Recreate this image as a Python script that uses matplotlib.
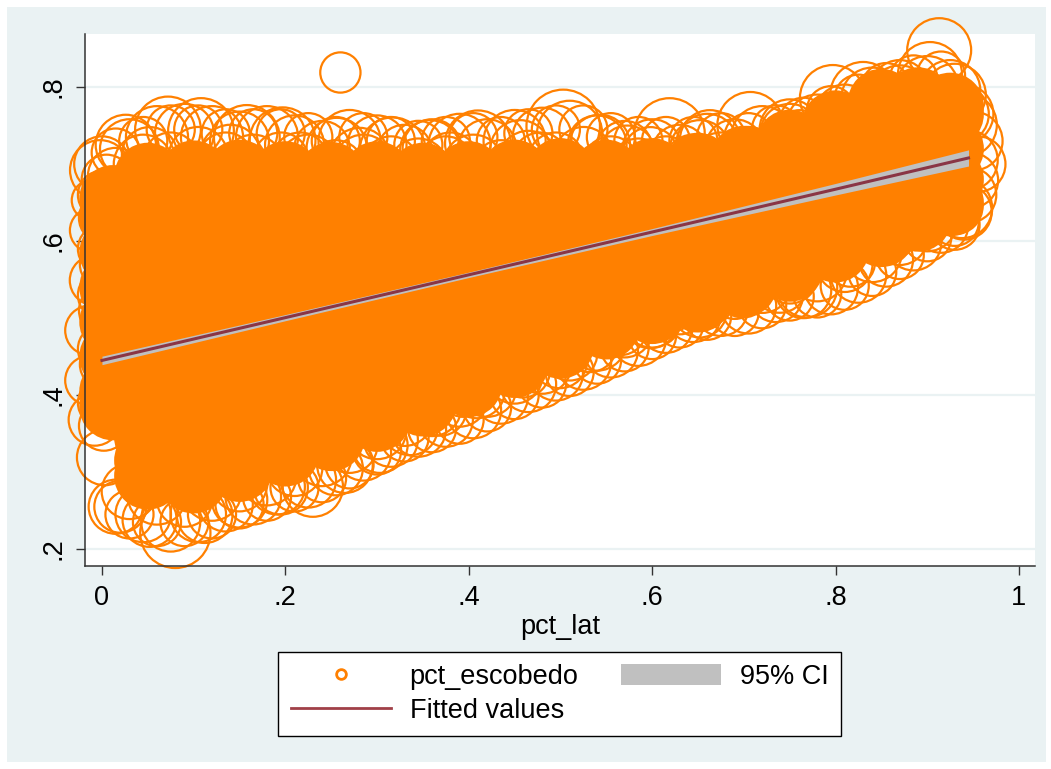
import matplotlib
matplotlib.use("Agg")
import matplotlib.pyplot as plt
from matplotlib.lines import Line2D
from matplotlib.patches import Patch, Rectangle

plt.rcParams['font.family'] = ['Liberation Sans', 'DejaVu Sans']

# ---------------- data ----------------
# dense core of the scatter (markers overlap so much they look solid)
core_x = [0.012, 0.012, 0.012, 0.012, 0.012, 0.012, 0.012,
          0.05, 0.05, 0.05, 0.05, 0.05, 0.05, 0.05, 0.05, 0.05,
          0.10, 0.10, 0.10, 0.10, 0.10, 0.10, 0.10, 0.10, 0.10,
          0.15, 0.15, 0.15, 0.15, 0.15, 0.15, 0.15, 0.15, 0.15,
          0.20, 0.20, 0.20, 0.20, 0.20, 0.20, 0.20, 0.20,
          0.25, 0.25, 0.25, 0.25, 0.25, 0.25, 0.25, 0.25,
          0.30, 0.30, 0.30, 0.30, 0.30, 0.30, 0.30,
          0.35, 0.35, 0.35, 0.35, 0.35, 0.35, 0.35,
          0.40, 0.40, 0.40, 0.40, 0.40, 0.40,
          0.45, 0.45, 0.45, 0.45, 0.45, 0.45,
          0.50, 0.50, 0.50, 0.50, 0.50,
          0.55, 0.55, 0.55, 0.55, 0.55,
          0.60, 0.60, 0.60, 0.60,
          0.65, 0.65, 0.65, 0.65,
          0.70, 0.70, 0.70, 0.70,
          0.75, 0.75, 0.75, 0.75,
          0.80, 0.80, 0.80, 0.80,
          0.85, 0.85, 0.85, 0.85,
          0.89, 0.89, 0.89, 0.89,
          0.925, 0.925, 0.925,
          0.012, 0.05, 0.10, 0.15, 0.20, 0.25, 0.30, 0.35, 0.40, 0.45,
          0.50, 0.55, 0.60, 0.65, 0.70, 0.75, 0.80, 0.85, 0.89, 0.925,
          0.05, 0.10, 0.15, 0.20, 0.25, 0.30, 0.35, 0.40, 0.45, 0.50,
          0.55, 0.60, 0.65, 0.70, 0.75, 0.80, 0.85, 0.89, 0.925]
core_y = [0.63, 0.585, 0.54, 0.495, 0.45, 0.405, 0.385,
          0.66, 0.61, 0.565, 0.52, 0.475, 0.43, 0.385, 0.345, 0.315,
          0.662, 0.612, 0.568, 0.524, 0.48, 0.436, 0.392, 0.35, 0.315,
          0.662, 0.612, 0.568, 0.524, 0.48, 0.436, 0.392, 0.35, 0.328,
          0.662, 0.612, 0.568, 0.524, 0.48, 0.436, 0.395, 0.35,
          0.662, 0.612, 0.568, 0.524, 0.48, 0.436, 0.40, 0.37,
          0.662, 0.612, 0.568, 0.524, 0.48, 0.44, 0.395,
          0.662, 0.612, 0.568, 0.524, 0.48, 0.45, 0.415,
          0.662, 0.612, 0.568, 0.524, 0.485, 0.445,
          0.664, 0.614, 0.57, 0.53, 0.495, 0.465,
          0.666, 0.616, 0.572, 0.535, 0.49,
          0.668, 0.62, 0.58, 0.545, 0.515,
          0.672, 0.625, 0.585, 0.535,
          0.68, 0.635, 0.595, 0.55,
          0.695, 0.65, 0.61, 0.57,
          0.715, 0.67, 0.632, 0.59,
          0.74, 0.695, 0.655, 0.615,
          0.765, 0.72, 0.68, 0.635,
          0.77, 0.725, 0.69, 0.655,
          0.765, 0.72, 0.68,
          0.655, 0.684, 0.687, 0.688, 0.686, 0.685, 0.686, 0.684, 0.686, 0.688,
          0.69, 0.688, 0.69, 0.697, 0.706, 0.727, 0.752, 0.78, 0.782, 0.775,
          0.295, 0.29, 0.305, 0.325, 0.345, 0.37, 0.39, 0.415, 0.44, 0.465,
          0.49, 0.51, 0.525, 0.545, 0.565, 0.59, 0.61, 0.63, 0.65]
core_w = [55] * len(core_x)

# individually visible circles around the edge of the cloud
ring_x = [-0.002, 0.026, 0.072, 0.108, 0.158, 0.197, 0.256, 0.317, 0.358, 0.410,
          0.456, 0.503, 0.543, 0.573, 0.619, 0.663, 0.707, 0.750, 0.797, 0.830,
          0.870, 0.913, 0.903, 0.925, 0.941, 0.944,
          0.052, 0.140, 0.216, 0.281, 0.380, 0.478, 0.598, 0.652, 0.761, 0.848,
          0.938, 0.947, 0.930,
          0.003, -0.008, -0.013, -0.013, -0.011, -0.008, -0.011,
          0.020, 0.052, 0.080, 0.112, 0.150, 0.191, 0.230, 0.265, 0.303, 0.336,
          0.369, 0.394, 0.409, 0.459, 0.499, 0.532, 0.565, 0.598, 0.619, 0.652,
          0.699, 0.739, 0.769, 0.816, 0.859, 0.892,
          0.260,
          0.002, 0.0, 0.003, 0.0, 0.002, 0.0, 0.003, 0.0, 0.002, 0.0, 0.005,
          0.95, 0.955, 0.945, 0.935]
ring_y = [0.692, 0.725, 0.745, 0.743, 0.734, 0.731, 0.721, 0.718, 0.718, 0.727,
          0.718, 0.749, 0.725, 0.714, 0.740, 0.731, 0.751, 0.745, 0.786, 0.790,
          0.796, 0.848, 0.817, 0.796, 0.751, 0.705,
          0.712, 0.712, 0.705, 0.708, 0.705, 0.705, 0.712, 0.718, 0.734, 0.770,
          0.643, 0.679, 0.621,
          0.319, 0.368, 0.419, 0.484, 0.614, 0.549, 0.653,
          0.255, 0.238, 0.221, 0.244, 0.264, 0.281, 0.281, 0.309, 0.335, 0.358,
          0.381, 0.404, 0.406, 0.432, 0.445, 0.465, 0.487, 0.497, 0.517, 0.510,
          0.536, 0.543, 0.540, 0.573, 0.612, 0.627,
          0.819,
          0.36, 0.39, 0.44, 0.46, 0.51, 0.53, 0.57, 0.59, 0.63, 0.66, 0.68,
          0.73, 0.70, 0.66, 0.765]
ring_w = [47, 47, 56, 56, 56, 56, 47, 56, 47, 56,
          47, 70, 47, 40, 64, 47, 56, 47, 56, 56,
          47, 53, 53, 47, 53, 47,
          40, 47, 40, 47, 40, 40, 40, 47, 40, 47,
          47, 40, 32,
          40, 35, 32, 32, 25, 32, 21,
          35, 38, 64, 40, 40, 40, 47, 40, 40, 40,
          35, 32, 40, 38, 40, 38, 38, 40, 38, 38,
          38, 40, 47, 32, 40, 40,
          21,
          32, 30, 32, 30, 32, 30, 32, 30, 32, 30, 32,
          45, 40, 40, 45]

# upper fringe of overlapping circles
top_x = [0.00, 0.03, 0.06, 0.09, 0.12, 0.15, 0.18, 0.21, 0.24, 0.27,
         0.30, 0.33, 0.36, 0.39, 0.42, 0.45, 0.48, 0.51, 0.54, 0.57,
         0.60, 0.63, 0.66, 0.69, 0.72, 0.75, 0.78, 0.81, 0.84, 0.87,
         0.90, 0.93,
         0.015, 0.045, 0.075, 0.105, 0.135, 0.165, 0.195, 0.225, 0.255, 0.285,
         0.315, 0.345, 0.375, 0.405, 0.435, 0.465, 0.495, 0.525, 0.555, 0.585,
         0.615, 0.645, 0.675, 0.705, 0.735, 0.765, 0.795, 0.825, 0.855, 0.885,
         0.915, 0.94]
top_y = [0.70, 0.72, 0.735, 0.74, 0.735, 0.73, 0.735, 0.725, 0.72, 0.73,
         0.725, 0.715, 0.72, 0.725, 0.72, 0.73, 0.735, 0.74, 0.725, 0.72,
         0.72, 0.715, 0.725, 0.72, 0.735, 0.74, 0.75, 0.765, 0.785, 0.79,
         0.80, 0.79,
         0.685, 0.70, 0.705, 0.71, 0.705, 0.70, 0.705, 0.70, 0.695, 0.70,
         0.70, 0.695, 0.70, 0.70, 0.695, 0.705, 0.705, 0.71, 0.70, 0.695,
         0.70, 0.70, 0.705, 0.71, 0.715, 0.725, 0.735, 0.745, 0.76, 0.77,
         0.775, 0.765]
top_w = [40, 45, 50, 45, 50, 45, 50, 45, 40, 50,
         45, 40, 45, 50, 45, 50, 45, 55, 45, 40,
         45, 40, 50, 45, 50, 45, 50, 45, 50, 45,
         50, 50,
         40, 45, 40, 45, 40, 45, 40, 45, 40, 45,
         40, 45, 40, 45, 40, 45, 40, 45, 40, 45,
         40, 45, 40, 45, 40, 45, 40, 45, 40, 45,
         45, 45]

# smaller circles packed in the upper fringe
top2_x = [0.015, 0.045, 0.075, 0.105, 0.135, 0.165, 0.195, 0.225, 0.255, 0.285,
          0.315, 0.345, 0.375, 0.405, 0.435, 0.465, 0.495, 0.525, 0.555, 0.585,
          0.615, 0.645, 0.675, 0.705, 0.735, 0.765, 0.795, 0.825, 0.855, 0.885,
          0.915]
top2_y = [0.715, 0.73, 0.745, 0.745, 0.74, 0.74, 0.74, 0.735, 0.73, 0.735,
          0.73, 0.725, 0.73, 0.735, 0.73, 0.74, 0.745, 0.745, 0.735, 0.73,
          0.73, 0.73, 0.735, 0.735, 0.745, 0.755, 0.77, 0.785, 0.80, 0.81,
          0.815]
top2_w = [30] * len(top2_x)

# lower fringe of overlapping circles
bot_x = [0.015, 0.045, 0.075, 0.105, 0.135, 0.165, 0.195, 0.225, 0.255, 0.285,
         0.315, 0.345, 0.375, 0.405, 0.435, 0.465, 0.495, 0.525, 0.555, 0.585,
         0.615, 0.645, 0.675, 0.705, 0.735, 0.765, 0.795, 0.825, 0.855, 0.885,
         0.915, 0.94,
         0.03, 0.06, 0.09, 0.12, 0.15, 0.18, 0.21, 0.24, 0.27, 0.30,
         0.33, 0.36, 0.39, 0.42, 0.45, 0.48, 0.51, 0.54, 0.57, 0.60,
         0.63, 0.66, 0.69, 0.72, 0.75, 0.78, 0.81, 0.84, 0.87, 0.90,
         0.93]
bot_y = [0.255, 0.245, 0.235, 0.245, 0.258, 0.268, 0.28, 0.29, 0.305, 0.325,
         0.342, 0.356, 0.368, 0.38, 0.398, 0.414, 0.428, 0.443, 0.458, 0.474,
         0.49, 0.505, 0.512, 0.516, 0.53, 0.536, 0.54, 0.556, 0.576, 0.598,
         0.62, 0.638,
         0.275, 0.27, 0.265, 0.275, 0.285, 0.295, 0.305, 0.32, 0.335, 0.355,
         0.37, 0.385, 0.395, 0.41, 0.425, 0.44, 0.455, 0.47, 0.485, 0.50,
         0.515, 0.53, 0.535, 0.545, 0.555, 0.56, 0.57, 0.585, 0.605, 0.625,
         0.645]
bot_w = [38, 40, 45, 40, 38, 40, 38, 40, 38, 40,
         38, 40, 38, 40, 38, 40, 38, 40, 38, 40,
         38, 40, 38, 40, 38, 40, 38, 40, 38, 40,
         38, 40,
         40, 45, 40, 45, 40, 45, 40, 45, 40, 45,
         40, 45, 40, 45, 40, 45, 40, 45, 40, 45,
         40, 45, 40, 45, 40, 45, 40, 45, 40, 45,
         40]

# smaller circles packed in the lower fringe
bot2_x = [0.03, 0.06, 0.09, 0.12, 0.15, 0.18, 0.21, 0.24, 0.27, 0.30,
          0.33, 0.36, 0.39, 0.42, 0.45, 0.48, 0.51, 0.54, 0.57, 0.60,
          0.63, 0.66, 0.69, 0.72, 0.75, 0.78, 0.81, 0.84, 0.87, 0.90,
          0.93]
bot2_y = [0.245, 0.235, 0.235, 0.245, 0.258, 0.268, 0.28, 0.292, 0.31, 0.328,
          0.345, 0.357, 0.368, 0.384, 0.40, 0.415, 0.43, 0.446, 0.462, 0.478,
          0.493, 0.503, 0.508, 0.518, 0.528, 0.532, 0.542, 0.56, 0.582, 0.605,
          0.625]
bot2_w = [30] * len(bot2_x)

# fitted values and 95% CI
fit_x = [0.0, 0.2, 0.4, 0.6, 0.8, 0.945]
fit_y = [0.445, 0.5006, 0.5562, 0.6118, 0.6674, 0.708]
ci_lo = [0.4395, 0.4966, 0.5527, 0.6073, 0.6599, 0.6975]
ci_hi = [0.4505, 0.5046, 0.5597, 0.6163, 0.6749, 0.7185]

xticks = [0, 0.2, 0.4, 0.6, 0.8, 1.0]
xticklabels = ['0', '.2', '.4', '.6', '.8', '1']
yticks = [0.2, 0.4, 0.6, 0.8]
yticklabels = ['.2', '.4', '.6', '.8']

# ---------------- styling ----------------
ORANGE = '#FF8000'
MAROON = '#8A3545'
CIGRAY = '#C0C0C0'
BG = '#EAF2F3'
SIZE_SCALE = 40
FS = 19.5

fig = plt.figure(figsize=(10.51, 7.69), dpi=100)
fig.patch.set_facecolor('white')
W, H = 1051, 769
fig.patches.append(Rectangle((7 / W, 1 - 762 / H), (1046 - 7) / W, (762 - 7) / H,
                             transform=fig.transFigure, facecolor=BG,
                             edgecolor='none', zorder=-10))

ax = fig.add_axes([85 / W, 1 - 566 / H, (1035 - 85) / W, (566 - 34) / H])
ax.set_facecolor('white')
ax.set_xlim(-0.0185, 1.0175)
ax.set_ylim(0.178, 0.869)

for yt in yticks:
    ax.axhline(yt, color=BG, lw=1.6, zorder=0)

for xs, ys, ws in [(ring_x, ring_y, ring_w), (top_x, top_y, top_w),
                   (top2_x, top2_y, top2_w), (bot_x, bot_y, bot_w),
                   (bot2_x, bot2_y, bot2_w)]:
    ax.scatter(xs, ys, s=[w * SIZE_SCALE for w in ws],
               facecolors='none', edgecolors=ORANGE, linewidths=1.6,
               clip_on=False, zorder=2)
ax.scatter(core_x, core_y, s=[w * SIZE_SCALE for w in core_w],
           facecolors=ORANGE, edgecolors=ORANGE, linewidths=1.6,
           clip_on=False, zorder=3)

ax.fill_between(fit_x, ci_lo, ci_hi, color=CIGRAY, lw=0, zorder=4)
ax.plot(fit_x, fit_y, color=MAROON, lw=2.2, zorder=5)

for sp in ['top', 'right']:
    ax.spines[sp].set_visible(False)
for sp in ['left', 'bottom']:
    ax.spines[sp].set_color('#333333')
    ax.spines[sp].set_linewidth(1.1)
    ax.spines[sp].set_zorder(6)

ax.set_xticks(xticks)
ax.set_xticklabels(xticklabels, fontsize=FS)
ax.set_yticks(yticks)
ax.set_yticklabels(yticklabels, fontsize=FS, rotation=90, va='center')
ax.tick_params(axis='both', direction='out', length=6.5, width=1.0,
               color='#333333', pad=7)
ax.set_xlabel('pct_lat', fontsize=FS, labelpad=2)

h_sc = Line2D([], [], linestyle='none', marker='o', markersize=7,
              markerfacecolor='white', markeredgecolor=ORANGE,
              markeredgewidth=2)
h_fit = Line2D([], [], color='#A04048', lw=2)
h_ci = Patch(facecolor=CIGRAY, edgecolor='none')
leg = fig.legend([h_sc, h_fit, h_ci], ['pct_escobedo', 'Fitted values', '95% CI'],
                 ncol=2, loc='center',
                 bbox_to_anchor=((281 + 838) / 2 / W, 1 - 694 / H),
                 fontsize=FS, frameon=True, fancybox=False,
                 edgecolor='black', facecolor='white', framealpha=1,
                 handlelength=3.7, handleheight=0.85, handletextpad=0.7,
                 columnspacing=1.55, labelspacing=0.3, borderpad=0.45)
leg.get_frame().set_linewidth(1.0)

fig.savefig('out.png', dpi=100)
